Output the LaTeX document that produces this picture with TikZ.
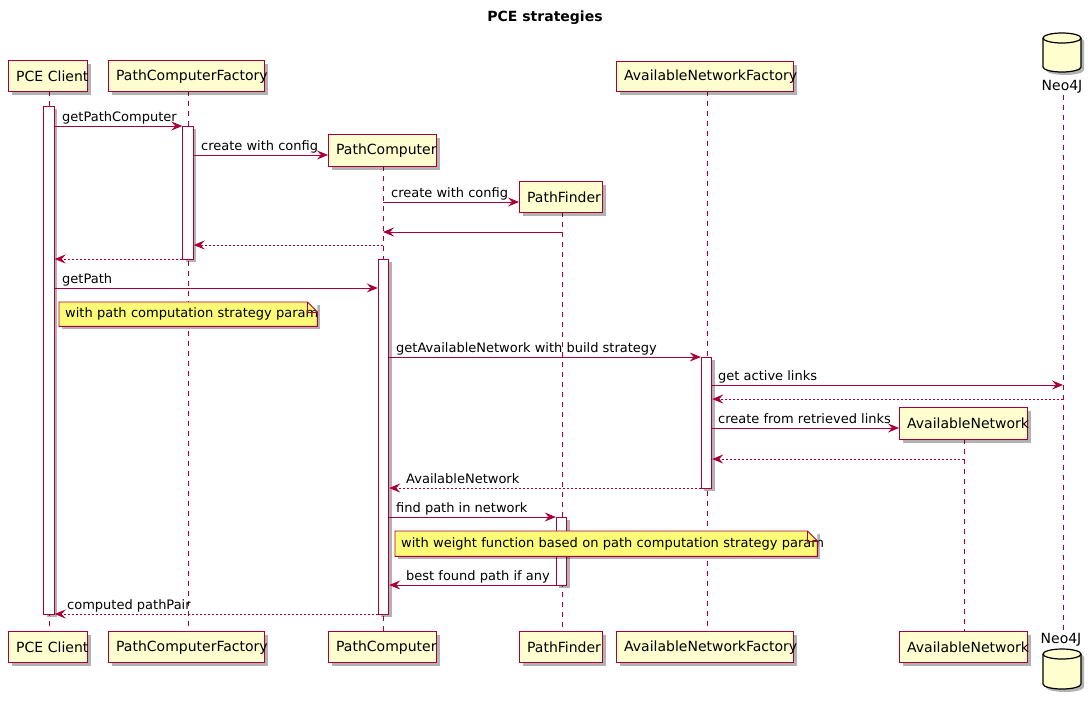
\documentclass[tikz,border=0pt]{standalone}
\usepackage{fontspec}
\setmainfont{DejaVu Sans}
\usetikzlibrary{arrows.meta,shadows}
\definecolor{umlred}{HTML}{A80036}
\definecolor{umlfill}{HTML}{FEFECE}
\definecolor{umlnote}{HTML}{FBFB77}
\tikzset{
  shd/.style={drop shadow={shadow xshift=3pt,shadow yshift=-3pt,fill=black,opacity=0.3}},
  pbox/.style={draw=umlred,fill=umlfill,line width=1.3pt,shd,anchor=north west,
    inner xsep=7.5pt,inner ysep=0pt,align=left,font=\fontsize{14}{16}\selectfont},
  actbar/.style={draw=umlred,fill=white,line width=0.9pt,shd,anchor=north,
    minimum width=10.5pt,inner sep=0pt},
  lifeline/.style={draw=umlred,line width=0.9pt,dash pattern=on 5pt off 5pt},
  msg/.style={draw=umlred,line width=0.9pt,-{Stealth[length=11pt,width=9pt,inset=4pt]}},
  ret/.style={msg,dash pattern=on 2pt off 2pt},
  lbl/.style={anchor=base west,inner sep=0pt,font=\fontsize{13}{15}\selectfont},
  notebox/.style={fill=umlnote,shd,anchor=north west,inner xsep=6pt,inner ysep=0pt,
    align=left,font=\fontsize{13}{15}\selectfont},
  noteline/.style={draw=umlred,line width=0.9pt,line join=miter},
  cyl/.style={draw=black,fill=umlfill,line width=1.2pt,shd}
}
\begin{document}
\begin{tikzpicture}[x=1pt,y=-1pt]
\useasboundingbox (0,0) rectangle (1091,705);
\node[font=\bfseries\fontsize{14}{16}\selectfont] (title) at (545,18) {PCE strategies};

% lifeline coordinates
\coordinate (lCt) at (49,91);    \coordinate (lCb) at (49,631);
\coordinate (lFt) at (188,91);   \coordinate (lFb) at (188,631);
\coordinate (lPCt) at (383,166); \coordinate (lPCb) at (383,631);
\coordinate (lPFt) at (562,212); \coordinate (lPFb) at (562,631);
\coordinate (lANFt) at (707,91); \coordinate (lANFb) at (707,631);
\coordinate (lANt) at (964,439); \coordinate (lANb) at (964,631);
\coordinate (lNt) at (1063,95);  \coordinate (lNb) at (1063,630);

\draw[lifeline] (lCt) -- (lCb);
\draw[lifeline] (lFt) -- (lFb);
\draw[lifeline] (lPCt) -- (lPCb);
\draw[lifeline] (lPFt) -- (lPFb);
\draw[lifeline] (lANFt) -- (lANFb);
\draw[lifeline] (lANt) -- (lANb);
\draw[lifeline] (lNt) -- (lNb);

% participants (top)
\node[pbox,text width=64pt,minimum height=31pt] (pC) at (8,60) {\mbox{PCE Client}};
\node[pbox,text width=141pt,minimum height=31pt] (pF) at (108,60) {\mbox{PathComputerFactory}};
\node[pbox,text width=93pt,minimum height=32pt] (pPC) at (328,134) {\mbox{PathComputer}};
\node[pbox,text width=68pt,minimum height=31pt] (pPF) at (519,181) {\mbox{PathFinder}};
\node[pbox,text width=162pt,minimum height=30pt] (pANF) at (616,61) {\mbox{AvailableNetworkFactory}};
\node[pbox,text width=113pt,minimum height=32pt] (pAN) at (899,407) {\mbox{AvailableNetwork}};
\filldraw[cyl] (1043,38) -- (1043,67) arc[start angle=180,end angle=360,x radius=19pt,y radius=5pt]
  -- (1081,38) arc[start angle=0,end angle=180,x radius=19pt,y radius=5pt] -- cycle;
\draw[black,line width=1.2pt] (1043,38) arc[start angle=180,end angle=360,x radius=19pt,y radius=5pt];
\node[font=\fontsize{14}{16}\selectfont,inner sep=0pt] (pN) at (1062,87) {Neo4J};

% participants (bottom)
\node[pbox,text width=64pt,minimum height=31pt] (qC) at (8,631) {\mbox{PCE Client}};
\node[pbox,text width=141pt,minimum height=31pt] (qF) at (108,631) {\mbox{PathComputerFactory}};
\node[pbox,text width=93pt,minimum height=31pt] (qPC) at (328,631) {\mbox{PathComputer}};
\node[pbox,text width=68pt,minimum height=31pt] (qPF) at (519,631) {\mbox{PathFinder}};
\node[pbox,text width=162pt,minimum height=31pt] (qANF) at (616,631) {\mbox{AvailableNetworkFactory}};
\node[pbox,text width=113pt,minimum height=31pt] (qAN) at (899,631) {\mbox{AvailableNetwork}};
\node[font=\fontsize{14}{16}\selectfont,inner sep=0pt] (qN) at (1061,640) {Neo4J};
\filldraw[cyl] (1043,654) -- (1043,684) arc[start angle=180,end angle=360,x radius=19pt,y radius=5pt]
  -- (1081,654) arc[start angle=0,end angle=180,x radius=19pt,y radius=5pt] -- cycle;
\draw[black,line width=1.2pt] (1043,654) arc[start angle=180,end angle=360,x radius=19pt,y radius=5pt];

% activation bars
\node[actbar,minimum height=508pt] (aC) at (49,106) {};
\node[actbar,minimum height=133pt] (aF) at (188,126) {};
\node[actbar,minimum height=355pt] (aPC) at (383.5,259) {};
\node[actbar,minimum height=131pt] (aANF) at (706.5,357) {};
\node[actbar,minimum height=68pt] (aPF) at (561.5,517) {};

% messages
\draw[msg] (aC.east |- 0,126) -- (aF.west |- 0,126);
\node[lbl] (m1) at (62,121.5) {getPathComputer};
\draw[msg] (aF.east |- 0,155) -- (pPC.west |- 0,155);
\node[lbl] (m2) at (201,150.5) {create with config};
\draw[msg] (lPCt |- 0,202) -- (pPF.west |- 0,202);
\node[lbl] (m3) at (391,197.5) {create with config};
\draw[msg] (lPFt |- 0,232) -- (lPCt |- 0,232);
\draw[ret] (lPCt |- 0,245) -- (aF.east |- 0,245);
\draw[ret] (aF.west |- 0,259) -- (aC.east |- 0,259);
\draw[msg] (aC.east |- 0,288) -- (aPC.west |- 0,288);
\node[lbl] (m7) at (62,283.5) {getPath};

\node[notebox,text width=246pt,minimum height=24pt] (n1) at (59,302) {\mbox{with path computation strategy param}};
\fill[white] ([xshift=-10pt]n1.north east) -- (n1.north east) -- ([yshift=-10pt]n1.north east) -- cycle;
\draw[noteline] (n1.north west) -- ([xshift=-10pt]n1.north east) -- ([yshift=-10pt]n1.north east)
  -- (n1.south east) -- (n1.south west) -- cycle;
\draw[noteline] ([xshift=-10pt]n1.north east) |- ([yshift=-10pt]n1.north east);

\draw[msg] (aPC.east |- 0,357) -- (aANF.west |- 0,357);
\node[lbl] (m8) at (396,352.5) {getAvailableNetwork with build strategy};
\draw[msg] (aANF.east |- 0,385) -- (lNt |- 0,385);
\node[lbl] (m9) at (718,380.5) {get active links};
\draw[ret] (lNt |- 0,399) -- (aANF.east |- 0,399);
\draw[msg] (aANF.east |- 0,428) -- (pAN.west |- 0,428);
\node[lbl] (m11) at (718,423.5) {create from retrieved links};
\draw[ret] (lANt |- 0,459) -- (aANF.east |- 0,459);
\draw[ret] (aANF.west |- 0,488) -- (aPC.east |- 0,488);
\node[lbl] (m13) at (406,483.5) {AvailableNetwork};
\draw[msg] (aPC.east |- 0,517) -- (aPF.west |- 0,517);
\node[lbl] (m14) at (396,512.5) {find path in network};

\node[notebox,text width=410pt,minimum height=25pt] (n2) at (395,531) {\mbox{with weight function based on path computation strategy param}};
\fill[white] ([xshift=-10pt]n2.north east) -- (n2.north east) -- ([yshift=-10pt]n2.north east) -- cycle;
\draw[noteline] (n2.north west) -- ([xshift=-10pt]n2.north east) -- ([yshift=-10pt]n2.north east)
  -- (n2.south east) -- (n2.south west) -- cycle;
\draw[noteline] ([xshift=-10pt]n2.north east) |- ([yshift=-10pt]n2.north east);

\draw[msg] (aPF.west |- 0,585) -- (aPC.east |- 0,585);
\node[lbl] (m15) at (406,580.5) {best found path if any};
\draw[ret] (aPC.west |- 0,614) -- (aC.east |- 0,614);
\node[lbl] (m16) at (67,609.5) {computed pathPair};
\end{tikzpicture}
\end{document}
